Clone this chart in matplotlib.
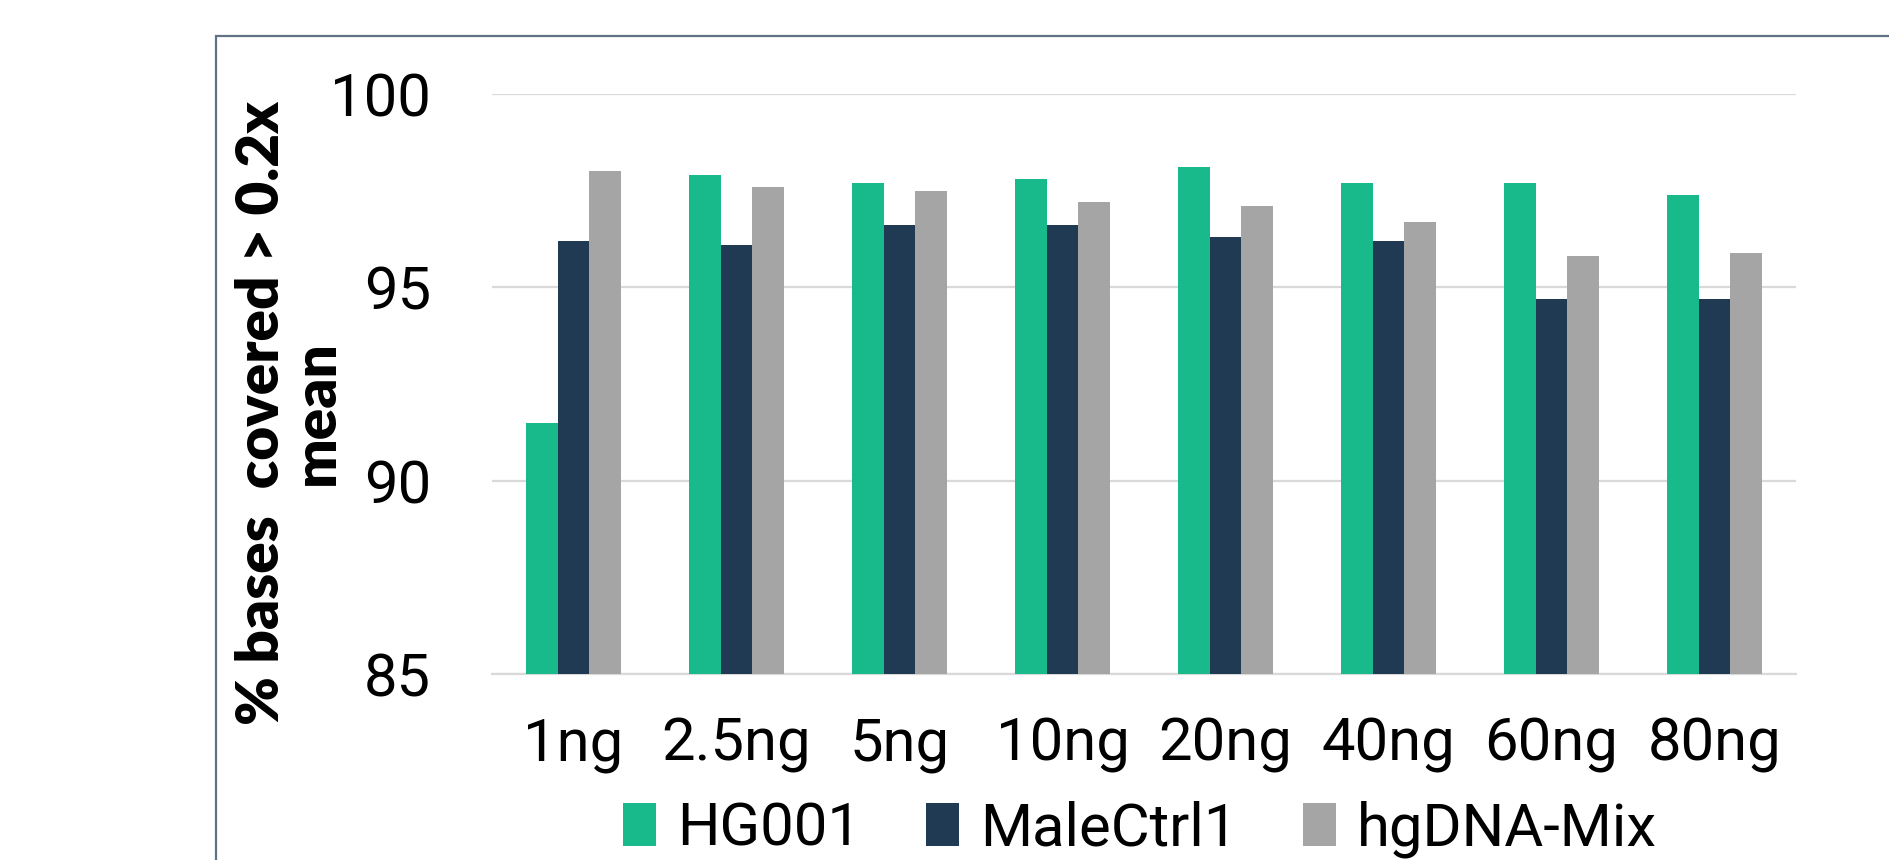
import matplotlib
matplotlib.use("Agg")
import matplotlib.pyplot as plt
from matplotlib import font_manager
from matplotlib.patches import Rectangle
import numpy as np

categories = ["1ng", "2.5ng", "5ng", "10ng", "20ng", "40ng", "60ng", "80ng"]
hg001 = [91.5, 97.9, 97.7, 97.8, 98.1, 97.7, 97.7, 97.4]
malectrl1 = [96.2, 96.1, 96.6, 96.6, 96.3, 96.2, 94.7, 94.7]
hgdna_mix = [98.0, 97.6, 97.5, 97.2, 97.1, 96.7, 95.8, 95.9]
series_names = ["HG001", "MaleCtrl1", "hgDNA-Mix"]
yticks = [85, 90, 95, 100]

colors = ["#18B98A", "#1F3A52", "#A5A5A5"]

avail = {f.name for f in font_manager.fontManager.ttflist}
tick_font = "Roboto" if "Roboto" in avail else "DejaVu Sans"
bold_font = "Lato" if "Lato" in avail else "DejaVu Sans"

W, H = 1890, 860
fig = plt.figure(figsize=(W / 100, H / 100), dpi=100)

# outer border (only top and left visible)
fig.patches.append(Rectangle((216 / W, -0.2), 2.0, 1.2 - 36 / H,
                             transform=fig.transFigure, fill=False,
                             edgecolor="#5F7384", linewidth=1.6))

ax = fig.add_axes([492 / W, 1 - 674 / H, (1796 - 492) / W, (674 - 94) / H])

x = np.arange(len(categories))
bw = 0.195
for i, (vals, name) in enumerate(zip([hg001, malectrl1, hgdna_mix], series_names)):
    ax.bar(x + (i - 1) * bw, vals, width=bw, color=colors[i], label=name, zorder=3)

tick_kw = dict(fontsize=43, family=tick_font, fontweight="normal")
ax.set_xlim(-0.5, len(categories) - 0.5)
ax.set_ylim(85, 100)
ax.set_yticks(yticks)
ax.set_yticklabels([str(t) for t in yticks], **tick_kw)
ax.set_xticks(x)
ax.set_xticklabels(categories, **tick_kw)
ax.tick_params(axis="y", length=0, pad=44)
ax.tick_params(axis="x", length=0, pad=30)
ax.grid(axis="y", color="#D9D9D9", linewidth=1.6, zorder=0)
for s in ["top", "right", "left"]:
    ax.spines[s].set_visible(False)
ax.spines["bottom"].set_color("#D9D9D9")
ax.spines["bottom"].set_linewidth(1.6)

fig.text(289 / W, 1 - 413 / H, "% bases  covered > 0.2x\nmean", rotation=90,
         ha="center", va="center", multialignment="center",
         fontsize=42, fontweight="heavy", family=bold_font, linespacing=1.05)

leg = fig.legend(loc="center", bbox_to_anchor=(1140 / W, 1 - 829 / H), ncol=3,
                 frameon=False,
                 prop={"family": tick_font, "size": 43, "weight": "normal"},
                 handlelength=0.55, handleheight=0.75, handletextpad=0.35,
                 columnspacing=1.1)

fig.savefig("out.png", dpi=100)
